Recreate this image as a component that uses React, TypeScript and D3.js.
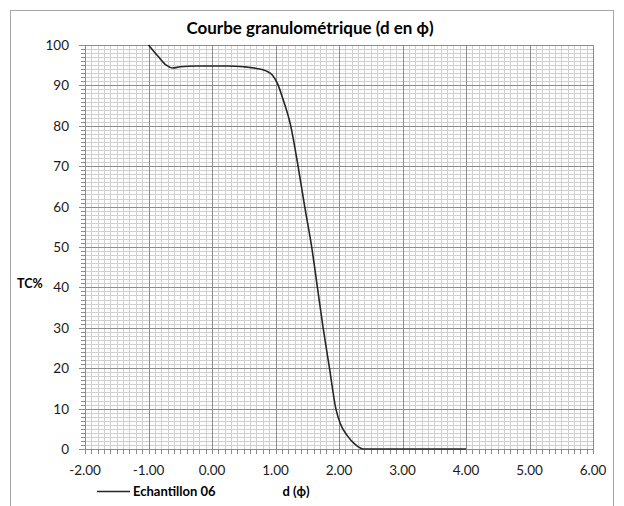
import * as d3 from 'd3';

// Courbe granulométrique - Echantillon 06
const dPhi = [-1.0, -0.85, -0.72, -0.62, -0.5, -0.25, 0.0, 0.25, 0.5, 0.7, 0.85, 0.95, 1.03, 1.12, 1.24, 1.35, 1.46, 1.57, 1.66, 1.75, 1.85, 1.95, 2.02, 2.13, 2.25, 2.38, 3.0, 4.0];
const tcPercent = [100, 97.2, 95.0, 94.3, 94.6, 94.8, 94.8, 94.8, 94.6, 94.2, 93.6, 92.6, 90.5, 86.5, 80, 70.5, 60, 50, 40, 30, 20, 10, 6.3, 3.3, 1.2, 0, 0, 0];

const xTicks = [-2, -1, 0, 1, 2, 3, 4, 5, 6];
const yTicks = [0, 10, 20, 30, 40, 50, 60, 70, 80, 90, 100];

const FONT = 'Lato, "Open Sans", sans-serif';

export default function App() {
  const width = 624;
  const height = 506;
  const plot = { left: 85, right: 593, top: 45, bottom: 449 };

  const x = d3.scaleLinear().domain([-2, 6]).range([plot.left, plot.right]);
  const y = d3.scaleLinear().domain([0, 100]).range([plot.bottom, plot.top]);

  const xMinor = d3.range(-20, 61).map((i) => i / 10);
  const yMinor = d3.range(0, 101);

  const line = d3
    .line<number>()
    .x((_, i) => x(dPhi[i]))
    .y((d) => y(d))
    .curve(d3.curveMonotoneX);

  return (
    <svg
      width={width}
      height={height}
      style={{ position: 'absolute', left: 0, top: 0, background: '#fff' }}
    >
      <rect x={10.5} y={10.5} width={603} height={500} fill="#fff" stroke="#a6a6a6" />

      <text x={310} y={34} textAnchor="middle" fontFamily={FONT} fontWeight="bold" fontSize={17} fill="#000">
        Courbe granulométrique (d en ф)
      </text>

      {/* minor grid */}
      <g stroke="#d0d0d0" strokeWidth={1}>
        {xMinor.map((v) => (
          <line key={'xm' + v} x1={Math.round(x(v)) + 0.5} x2={Math.round(x(v)) + 0.5} y1={plot.top} y2={plot.bottom} />
        ))}
        {yMinor.map((v) => (
          <line key={'ym' + v} x1={plot.left} x2={plot.right} y1={Math.round(y(v)) + 0.5} y2={Math.round(y(v)) + 0.5} />
        ))}
      </g>

      {/* major grid */}
      <g stroke="#8c8c8c" strokeWidth={1}>
        {xTicks.map((v) => (
          <line key={'xM' + v} x1={Math.round(x(v)) + 0.5} x2={Math.round(x(v)) + 0.5} y1={plot.top} y2={plot.bottom} />
        ))}
        {yTicks.map((v) => (
          <line key={'yM' + v} x1={plot.left} x2={plot.right} y1={Math.round(y(v)) + 0.5} y2={Math.round(y(v)) + 0.5} />
        ))}
      </g>

      {/* axis ticks */}
      <g stroke="#8c8c8c" strokeWidth={1}>
        {yMinor.map((v) => (
          <line key={'yt' + v} x1={plot.left - (v % 10 === 0 ? 6 : 4)} x2={plot.left} y1={Math.round(y(v)) + 0.5} y2={Math.round(y(v)) + 0.5} />
        ))}
        {xMinor.map((v) => (
          <line key={'xt' + v} x1={Math.round(x(v)) + 0.5} x2={Math.round(x(v)) + 0.5} y1={plot.bottom} y2={plot.bottom + 5} />
        ))}
      </g>

      <path d={line(tcPercent) ?? ''} fill="none" stroke="#262626" strokeWidth={1.6} />

      {/* tick labels */}
      <g fontFamily={FONT} fontSize={13.5} fill="#1a1a1a">
        {yTicks.map((v) => (
          <text key={'yl' + v} x={plot.left - 16} y={y(v)} textAnchor="end" dominantBaseline="central">
            {v}
          </text>
        ))}
        {xTicks.map((v) => (
          <text key={'xl' + v} x={x(v)} y={470} textAnchor="middle" dominantBaseline="central">
            {v.toFixed(2)}
          </text>
        ))}
      </g>

      <text x={17} y={288} fontFamily={FONT} fontWeight="bold" fontSize={12.5} fill="#000">
        TC%
      </text>
      <text x={296} y={496} textAnchor="middle" fontFamily={FONT} fontWeight="bold" fontSize={13} fill="#000">
        d (ф)
      </text>

      {/* legend */}
      <line x1={97} x2={130} y1={491.5} y2={491.5} stroke="#262626" strokeWidth={1.6} />
      <text x={133} y={496} fontFamily={FONT} fontWeight="bold" fontSize={13} fill="#000">
        Echantillon 06
      </text>
    </svg>
  );
}
